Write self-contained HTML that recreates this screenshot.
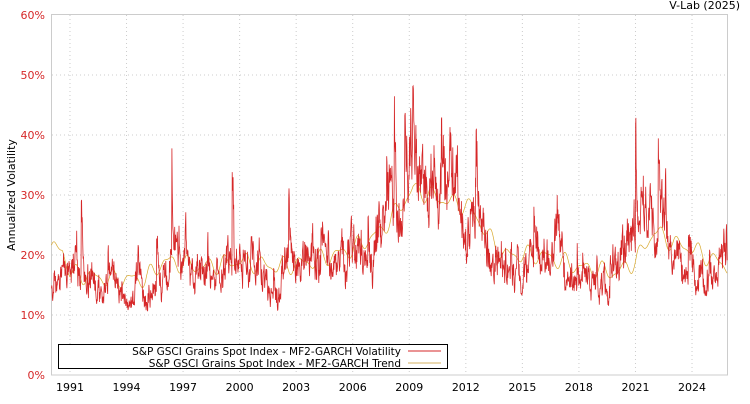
<!DOCTYPE html>
<html><head><meta charset="utf-8"><style>
body{margin:0;background:#fff;width:750px;height:400px;overflow:hidden;font-family:"DejaVu Sans","Liberation Sans",sans-serif}
</style></head><body>
<svg id="s" width="750" height="400" xmlns="http://www.w3.org/2000/svg" font-family="DejaVu Sans, Liberation Sans, sans-serif">
<rect x="51.5" y="14.5" width="676" height="360.5" fill="none" stroke="#ccc"/>
<g id="grid" stroke="#ccc" stroke-dasharray="1,3"></g>
<g id="yl" fill="#d62728" font-size="11" text-anchor="end"></g>
<g id="xl" fill="#000" font-size="11" text-anchor="middle"></g>
<text x="15" y="195" font-size="11" transform="rotate(-90 15 195)" text-anchor="middle">Annualized Volatility</text>
<text x="740" y="9" font-size="11" text-anchor="end">V-Lab (2025)</text>
<polyline id="t" fill="none" stroke="#d4a017" stroke-width="0.7" opacity="0.9"/>
<polyline id="v" fill="none" stroke="#d62728" stroke-width="0.8"/>
<rect x="58.5" y="344.5" width="389" height="24" fill="#fff" stroke="#000"/>
<text x="401" y="355" font-size="10.5" text-anchor="end">S&amp;P GSCI Grains Spot Index - MF2-GARCH Volatility</text>
<text x="401" y="367" font-size="10.5" text-anchor="end">S&amp;P GSCI Grains Spot Index - MF2-GARCH Trend</text>
<line x1="408" y1="351" x2="441" y2="351" stroke="#d62728"/>
<line x1="408" y1="363" x2="441" y2="363" stroke="#d4b060"/>
</svg>
<script>
var NS="http://www.w3.org/2000/svg";
function el(p,t,a,txt){var e=document.createElementNS(NS,t);for(var k in a)e.setAttribute(k,a[k]);if(txt)e.textContent=txt;document.getElementById(p).appendChild(e);}
function X(yr){return 51.5+(yr-1990.02)*18.85;}
function Y(p){return 375-p*6;}
for(var i=0;i<=6;i++){var y=Y(i*10);if(i>0&&i<6)el("grid","line",{x1:52,x2:728,y1:y,y2:y});el("yl","text",{x:45,y:y+4},i*10+"%");}
for(var yr=1991;yr<=2024;yr+=3){var x=X(yr);el("grid","line",{x1:x,x2:x,y1:15,y2:375});el("xl","text",{x:x,y:391},""+yr);}
function interp(tk,y){for(var i=1;i<tk.length;i++)if(y<=tk[i][0]){var a=tk[i-1],b=tk[i];return a[1]+(b[1]-a[1])*(y-a[0])/(b[0]-a[0]);}return tk[tk.length-1][1];}
var tk=[[1990,21],[1990.6,21],[1991,17],[1993,16],[1995,16],[1996,19],[1998,18],[2000,19],[2002,18],[2004,19],[2006,21],[2007.5,24],[2008.5,28],[2009.2,31],[2011,29],[2012.3,28],[2013,24],[2014,20],[2016,20],[2018,18],[2020,17],[2021,19],[2022,24],[2023,22],[2024,21],[2025.9,18]];
var lv=[[1990,16],[1991,16],[1992,15],[1993,15],[1994,14],[1995,14.5],[1996,18],[1997,19],[1998,18],[1999,17],[2000,19],[2001,17],[2002,16],[2003,20],[2004,19],[2005,18],[2006,21],[2007,24],[2008,28],[2009,32],[2010,28],[2011,29],[2012,28],[2013,22],[2014,18],[2015,19],[2016,19],[2017,18],[2018,17],[2019,16],[2020,17],[2021,22],[2022,23],[2023,19],[2024,17],[2025.9,16]];
var sp=[[1991.6,0.7],[1996.4,0.6],[1999.6,0.75],[2002.6,0.3],[2004.3,0.3],[2006.8,0.35],[2007.8,0.3],[2008.2,0.45],[2008.75,0.5],[2010.7,0.25],[2012.5,0.35],[2015.6,0.55],[2017.9,0.5],[2021.0,0.6],[2022.2,0.55],[2023.8,0.6],[2005.2,0.25],[1998.3,0.25]];
var seed=11;function r(){seed=(seed*16807)%2147483647;return seed/2147483647;}
var n=2200,vp=[],tp=[],z=0,w=0,k=0;
for(var i=0;i<n;i++){var yr=1990.02+i*(35.86/n);var tr=interp(tk,yr);
z=0.94*z+0.07*(r()-0.5)*2;w=0.5*w+0.12*(r()-0.5)*2;
if(r()<0.012)k+=0.15+0.2*r();k*=0.85;
var s=0;for(var j=0;j<sp.length;j++){var d=yr-sp[j][0];if(d>=0)s+=sp[j][1]*Math.exp(-d*10);}
var v=interp(lv,yr)*Math.exp(z+w+s+k-0.02);if(v>54)v=54;
vp.push(X(yr).toFixed(1)+","+Y(v).toFixed(1));
tp.push(X(yr).toFixed(1)+","+Y(tr+1.1*Math.sin(yr*6.28)+0.6*Math.sin(yr*9.7)).toFixed(1));}
document.getElementById("v").setAttribute("points",vp.join(" "));
document.getElementById("t").setAttribute("points",tp.join(" "));
</script>
</body></html>
